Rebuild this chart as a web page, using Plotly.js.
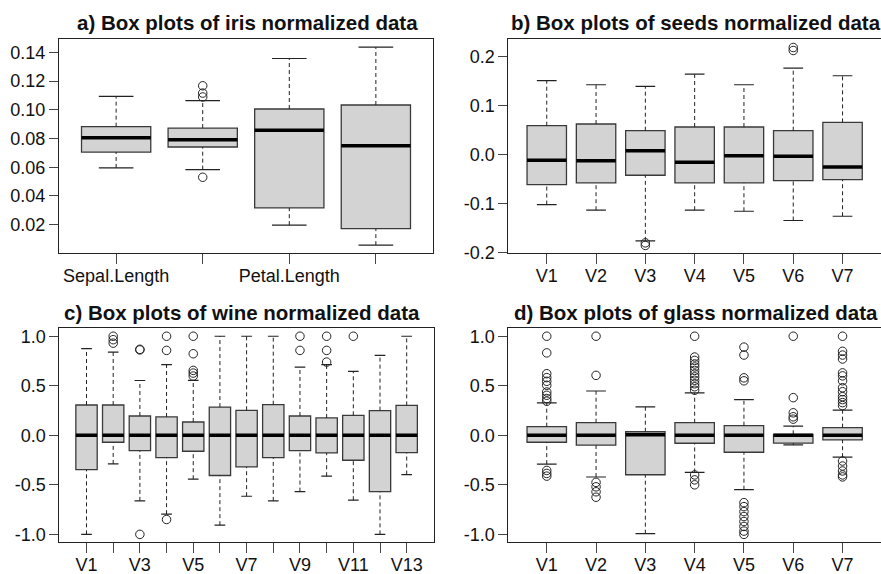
<!DOCTYPE html>
<html>
<head>
<meta charset="utf-8">
<script src="https://cdn.plot.ly/plotly-3.0.1.min.js"></script>
<style>html,body{margin:0;padding:0;background:#fff;}#chart{width:881px;height:574px;}</style>
</head>
<body>
<div id="chart"></div>
<script>
// ---------- a) iris ----------
const irisVars = ['Sepal.Length', 'Sepal.Width', 'Petal.Length', 'Petal.Width'];
const irisTickText = ['Sepal.Length', '', 'Petal.Length', ''];
const irisLow  = [0.0595, 0.0583, 0.0196, 0.0057];
const irisQ1   = [0.0706, 0.0741, 0.0316, 0.0172];
const irisMed  = [0.0806, 0.0792, 0.0857, 0.0750];
const irisQ3   = [0.0883, 0.0873, 0.1006, 0.1034];
const irisHigh = [0.1094, 0.1064, 0.1358, 0.1437];
const irisOutliers = [[], [0.1168, 0.1117, 0.1090, 0.0530], [], []];
const irisYTicks = [0.02, 0.04, 0.06, 0.08, 0.10, 0.12, 0.14];
const irisYText = ['0.02', '0.04', '0.06', '0.08', '0.10', '0.12', '0.14'];

// ---------- b) seeds ----------
const seedsVars = ['V1', 'V2', 'V3', 'V4', 'V5', 'V6', 'V7'];
const seedsTickText = ['V1', 'V2', 'V3', 'V4', 'V5', 'V6', 'V7'];
const seedsLow  = [-0.1017, -0.1132, -0.1756, -0.1132, -0.1153, -0.1342, -0.1255];
const seedsQ1   = [-0.0610, -0.0576, -0.0420, -0.0576, -0.0576, -0.0529, -0.0508];
const seedsMed  = [-0.0115, -0.0122, 0.0081, -0.0156, -0.0020, -0.0034, -0.0250];
const seedsQ3   = [0.0590, 0.0624, 0.0488, 0.0563, 0.0563, 0.0488, 0.0657];
const seedsHigh = [0.1510, 0.1424, 0.1390, 0.1640, 0.1424, 0.1763, 0.1607];
const seedsOutliers = [[], [], [-0.1797, -0.1850], [], [], [0.2183, 0.2122], []];
const seedsYTicks = [-0.2, -0.1, 0.0, 0.1, 0.2];
const seedsYText = ['-0.2', '-0.1', '0.0', '0.1', '0.2'];

// ---------- c) wine ----------
const wineVars = ['V1', 'V2', 'V3', 'V4', 'V5', 'V6', 'V7', 'V8', 'V9', 'V10', 'V11', 'V12', 'V13'];
const wineTickText = ['V1', '', 'V3', '', 'V5', '', 'V7', '', 'V9', '', 'V11', '', 'V13'];
const wineLow  = [-1.0, -0.289, -0.662, -0.796, -0.443, -0.907, -0.615, -0.662, -0.568, -0.413, -0.655, -1.0, -0.396];
const wineQ1   = [-0.346, -0.070, -0.155, -0.225, -0.161, -0.406, -0.319, -0.225, -0.155, -0.178, -0.252, -0.568, -0.175];
const wineMed  = [0, 0, 0, 0, 0, 0, 0, 0, 0, 0, 0, 0, 0];
const wineQ3   = [0.306, 0.306, 0.195, 0.185, 0.134, 0.285, 0.252, 0.309, 0.195, 0.175, 0.202, 0.249, 0.302];
const wineHigh = [0.874, 0.840, 0.553, 0.713, 0.555, 1.0, 1.0, 1.0, 0.689, 0.713, 0.645, 0.806, 1.0];
const wineOutliers = [
  [], [1.0, 0.965, 0.93], [0.862, 0.868, -1.0], [1.0, 0.857, -0.850],
  [1.0, 0.823, 0.655, 0.628, 0.598], [], [], [], [1.0, 0.857],
  [1.0, 0.857, 0.739], [1.0], [], []
];
const unitYTicks = [-1.0, -0.5, 0.0, 0.5, 1.0];
const unitYText = ['-1.0', '-0.5', '0.0', '0.5', '1.0'];

// ---------- d) glass ----------
const glassVars = ['V1', 'V2', 'V3', 'V4', 'V5', 'V6', 'V7'];
const glassTickText = ['V1', 'V2', 'V3', 'V4', 'V5', 'V6', 'V7'];
const glassLow  = [-0.291, -0.421, -0.993, -0.375, -0.549, -0.097, -0.221];
const glassQ1   = [-0.070, -0.100, -0.398, -0.080, -0.171, -0.079, -0.047];
const glassMed  = [0, 0, 0.005, 0, 0, 0, 0];
const glassQ3   = [0.087, 0.127, 0.036, 0.127, 0.097, 0.010, 0.077];
const glassHigh = [0.327, 0.447, 0.287, 0.428, 0.360, 0.093, 0.254];
const glassOutliers = [
  [1.0, 0.832, 0.622, 0.582, 0.545, 0.505, 0.437, 0.404, 0.371, 0.344, -0.355, -0.385, -0.412],
  [1.0, 0.605, -0.475, -0.52, -0.57, -0.625],
  [],
  [1.0, 0.79, 0.756, 0.72, 0.69, 0.655, 0.62, 0.59, 0.555, 0.52, 0.49, 0.455, -0.40, -0.45, -0.50],
  [0.89, 0.81, 0.58, 0.55, -0.68, -0.72, -0.77, -0.82, -0.87, -0.92, -0.967, -1.0],
  [1.0, 0.38, 0.227, 0.187, 0.163],
  [1.0, 0.848, 0.81, 0.77, 0.63, 0.60, 0.55, 0.48, 0.44, 0.39, 0.36, 0.33, 0.30, -0.26, -0.31, -0.36, -0.40, -0.42]
];

const panelTitles = [
  'a) Box plots of iris normalized data',
  'b) Box plots of seeds normalized data',
  'c) Box plots of wine normalized data',
  'd) Box plots of glass normalized data'
];

// ---------- drawing ----------
const BOXW = 0.8, CAPW = 0.4;
const BOX_LINE = '#3a3a3a', WHISK = '#222222', FILL = '#d3d3d3';
const FONT = 'Liberation Sans, Arial, sans-serif';

function panelTraces(vars, low, q1, med, q3, high, outl, xa, ya) {
  const pos = vars.map((v, i) => i + 1);
  const wx = [], wy = [], cx = [], cy = [], mx = [], my = [], ox = [], oy = [];
  pos.forEach((p, i) => {
    wx.push(p, p, null, p, p, null);
    wy.push(low[i], q1[i], null, q3[i], high[i], null);
    cx.push(p - CAPW / 2, p + CAPW / 2, null, p - CAPW / 2, p + CAPW / 2, null);
    cy.push(low[i], low[i], null, high[i], high[i], null);
    mx.push(p - BOXW / 2, p + BOXW / 2, null);
    my.push(med[i], med[i], null);
    outl[i].forEach(v => { ox.push(p); oy.push(v); });
  });
  return [
    {type: 'scatter', mode: 'lines', x: wx, y: wy, xaxis: xa, yaxis: ya,
     line: {color: WHISK, width: 1, dash: '4px,3px'}, hoverinfo: 'skip', showlegend: false},
    {type: 'scatter', mode: 'lines', x: cx, y: cy, xaxis: xa, yaxis: ya,
     line: {color: WHISK, width: 1.2}, hoverinfo: 'skip', showlegend: false},
    {type: 'box', x: pos, q1: q1, median: med, q3: q3, lowerfence: q1, upperfence: q3,
     width: BOXW, whiskerwidth: 0, boxpoints: false, fillcolor: FILL,
     line: {color: BOX_LINE, width: 1.3}, xaxis: xa, yaxis: ya, showlegend: false},
    {type: 'scatter', mode: 'lines', x: mx, y: my, xaxis: xa, yaxis: ya,
     line: {color: '#000', width: 3.5}, hoverinfo: 'skip', showlegend: false},
    {type: 'scatter', mode: 'markers', x: ox, y: oy, xaxis: xa, yaxis: ya,
     marker: {symbol: 'circle-open', size: 8.5, color: '#222', line: {width: 1}},
     hoverinfo: 'skip', showlegend: false}
  ];
}

const data = [].concat(
  panelTraces(irisVars, irisLow, irisQ1, irisMed, irisQ3, irisHigh, irisOutliers, 'x', 'y'),
  panelTraces(seedsVars, seedsLow, seedsQ1, seedsMed, seedsQ3, seedsHigh, seedsOutliers, 'x2', 'y2'),
  panelTraces(wineVars, wineLow, wineQ1, wineMed, wineQ3, wineHigh, wineOutliers, 'x3', 'y3'),
  panelTraces(glassVars, glassLow, glassQ1, glassMed, glassQ3, glassHigh, glassOutliers, 'x4', 'y4')
);

const W = 881, H = 574;
function px(x) { return x / W; }
function py(y) { return (H - y) / H; }

function xAxis(domainPx, range, n, text, anchor) {
  return {
    domain: [px(domainPx[0]), Math.min(1, px(domainPx[1]))], range: range, anchor: anchor,
    tickmode: 'array', tickvals: text.map((t, i) => i + 1), ticktext: text, tickangle: 0,
    ticks: 'outside', ticklen: 10, tickwidth: 1, tickcolor: '#444',
    ticklabelstandoff: -4,
    showline: true, mirror: true, linecolor: '#222', linewidth: 1,
    showgrid: false, zeroline: false, fixedrange: true,
    tickfont: {family: FONT, size: 18, color: '#111'}
  };
}
function yAxis(domainPx, range, vals, text, anchor) {
  return {
    domain: [py(domainPx[1]), py(domainPx[0])], range: range, anchor: anchor,
    tickmode: 'array', tickvals: vals, ticktext: text,
    ticks: 'outside', ticklen: 9, tickwidth: 1, tickcolor: '#444',
    showline: true, mirror: true, linecolor: '#222', linewidth: 1,
    showgrid: false, zeroline: false, fixedrange: true,
    tickfont: {family: FONT, size: 18, color: '#111'}
  };
}

const layout = {
  width: W, height: H,
  margin: {l: 0, r: 0, t: 0, b: 0},
  paper_bgcolor: '#fff', plot_bgcolor: '#fff',
  showlegend: false,
  xaxis:  xAxis([59, 433], [0.34, 4.66], 4, irisTickText, 'y'),
  yaxis:  yAxis([39.3, 253], [0.0002, 0.1492], irisYTicks, irisYText, 'x'),
  xaxis2: xAxis([508.3, 881.8], [0.22, 7.78], 7, seedsTickText, 'y2'),
  yaxis2: yAxis([39.3, 253.3], [-0.201, 0.235], seedsYTicks, seedsYText, 'x2'),
  xaxis3: xAxis([59.3, 433.9], [-0.02, 14.02], 13, wineTickText, 'y3'),
  yaxis3: yAxis([328.3, 542.3], [-1.08, 1.08], unitYTicks, unitYText, 'x3'),
  xaxis4: xAxis([508.3, 881.8], [0.22, 7.78], 7, glassTickText, 'y4'),
  yaxis4: yAxis([328.3, 542.3], [-1.08, 1.08], unitYTicks, unitYText, 'x4'),
  annotations: [
    {text: '<b>' + panelTitles[0] + '</b>', x: px(247), y: py(22)},
    {text: '<b>' + panelTitles[1] + '</b>', x: px(696), y: py(22)},
    {text: '<b>' + panelTitles[2] + '</b>', x: px(242), y: py(312)},
    {text: '<b>' + panelTitles[3] + '</b>', x: px(696), y: py(312)}
  ].map(a => Object.assign(a, {xref: 'paper', yref: 'paper', xanchor: 'center', yanchor: 'middle',
    showarrow: false, font: {family: FONT, size: 20.5, color: '#111'}}))
};

Plotly.newPlot('chart', data, layout, {displayModeBar: false, staticPlot: true});
</script>
</body>
</html>
